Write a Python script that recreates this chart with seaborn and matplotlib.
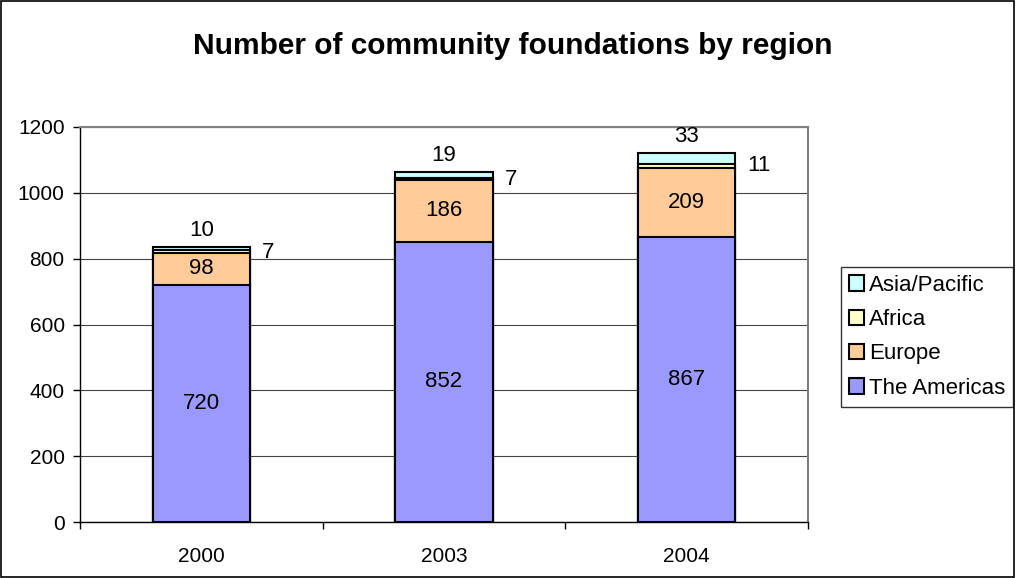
import matplotlib
matplotlib.use("Agg")
import matplotlib.pyplot as plt
import seaborn as sns
import numpy as np
import pandas as pd
from matplotlib.patches import Rectangle, Patch

years = ["2000", "2003", "2004"]
americas = [720, 852, 867]
europe = [98, 186, 209]
africa = [7, 7, 11]
asia = [10, 19, 33]

regions = ["The Americas", "Europe", "Africa", "Asia/Pacific"]
colors = {"The Americas": "#9999FF", "Europe": "#FFCC99",
          "Africa": "#FFFFCC", "Asia/Pacific": "#CCFFFF"}

sns.set_style("white")
plt.rcParams['font.family'] = ['Liberation Sans', 'DejaVu Sans']
plt.rcParams['text.color'] = 'black'
plt.rcParams['xtick.color'] = 'black'
plt.rcParams['ytick.color'] = 'black'

fig = plt.figure(figsize=(10.16, 5.78), dpi=100)
ax = fig.add_axes([80/1016, 56/578, 728/1016, 395/578])

layers = [americas, europe, africa, asia]
cum = np.cumsum(np.array(layers), axis=0)
# draw from the tallest cumulative down so lower layers cover upper ones
for i in range(len(regions) - 1, -1, -1):
    df = pd.DataFrame({"year": years, "value": cum[i]})
    sns.barplot(data=df, x="year", y="value", color=colors[regions[i]],
                width=0.4, edgecolor="black", linewidth=1.5, ax=ax,
                saturation=1, zorder=3)

ax.set_ylim(0, 1200)
ax.set_xlim(-0.5, 2.5)
ax.set_yticks(range(0, 1201, 200))
ax.yaxis.grid(True, color="#444444", linewidth=0.8, zorder=0)
ax.set_axisbelow(True)
ax.set_xlabel("")
ax.set_ylabel("")
ax.tick_params(axis="y", labelsize=15, length=5, direction="out", left=True, width=1, pad=6)
ax.tick_params(axis="x", labelsize=15, length=0, pad=18)
ax.set_xticks([-0.5, 0.5, 1.5, 2.5], minor=True)
ax.tick_params(axis="x", which="minor", length=5, bottom=True, width=1)
for s in ["left", "bottom"]:
    ax.spines[s].set_color("black")
    ax.spines[s].set_linewidth(1)
for s in ["top", "right"]:
    ax.spines[s].set_color("#808080")
    ax.spines[s].set_linewidth(1.5)

fs = 16
for j in range(len(years)):
    ax.text(j, americas[j] / 2, str(americas[j]), ha="center", va="center", fontsize=fs)
    ax.text(j, americas[j] + europe[j] / 2, str(europe[j]), ha="center", va="center", fontsize=fs)
    ax.text(j + 0.25, cum[2][j] - 5, str(africa[j]), ha="left", va="center", fontsize=fs)
    ax.text(j, cum[3][j] + 50, str(asia[j]), ha="center", va="center", fontsize=fs)

fig.suptitle("Number of community foundations by region", x=513/1016, y=1 - 46/578,
             va="center", fontsize=21.5, fontweight="bold")

handles = [Patch(facecolor=colors[r], edgecolor="black", linewidth=1.5, label=r)
           for r in reversed(regions)]
leg = fig.legend(handles=handles, loc="upper left", bbox_to_anchor=(841/1016, 1 - 267/578),
                 fontsize=16, frameon=True, fancybox=False, handlelength=0.7,
                 handleheight=0.7, handletextpad=0.2, borderpad=0.35, labelspacing=0.6,
                 borderaxespad=0)
leg.get_frame().set_edgecolor("black")
leg.get_frame().set_linewidth(1)

fig.patches.append(Rectangle((0.001, 0.001), 0.997, 0.997, transform=fig.transFigure,
                             fill=False, edgecolor="black", linewidth=1.2))

fig.savefig("out.png", dpi=100)
